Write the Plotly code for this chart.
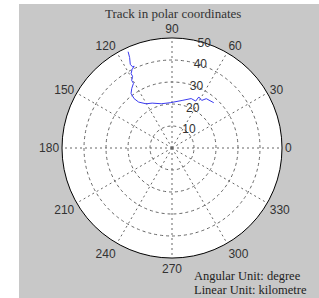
import plotly.graph_objects as go

# Track data (range in km, bearing in degrees)
track_r = [48.1, 45.4, 42.5, 41.0, 41.0, 40.0, 38.6, 37.2, 35.8, 34.2, 32.7, 31.0,
           28.3, 25.8, 23.3, 22.3, 20.7, 20.6, 22.1, 24.1, 23.9, 26.2, 25.5, 27.3, 28.0]
track_theta = [114.5, 115.1, 116.5, 115.9, 114.8, 117.0, 118.8, 118.8, 120.8, 120.8,
               124.0, 126.9, 127.5, 126.0, 120.4, 113.8, 103.7, 92.2, 78.0, 68.8,
               63.2, 62.3, 58.0, 55.2, 47.3]

angle_ticks = [0, 30, 60, 90, 120, 150, 180, 210, 240, 270, 300, 330]
radial_ticks = [10, 20, 30, 40, 50]

W, H = 319, 298
L, R, T, B = 62, 37, 38, 40
pw, ph = W - L - R, H - T - B

def px(x):
    return (x - L) / pw

def py(y):
    return (H - B - y) / ph

fig = go.Figure()
fig.add_trace(go.Scatterpolar(
    r=track_r, theta=track_theta, mode="lines",
    line=dict(color="#3b3bf0", width=1), showlegend=False, hoverinfo="skip"))

fig.update_layout(
    width=W, height=H,
    margin=dict(l=L, r=R, t=T, b=B),
    paper_bgcolor="white",
    showlegend=False,
    polar=dict(
        bgcolor="white",
        domain=dict(x=[0, 1], y=[0, 1]),
        angularaxis=dict(
            rotation=0, direction="counterclockwise",
            tickmode="array", tickvals=angle_ticks,
            ticktext=[str(a) for a in angle_ticks],
            ticks="", showline=True, linecolor="black", linewidth=1,
            showgrid=True, gridcolor="#666666", gridwidth=1, griddash="2px,3px",
            tickfont=dict(family="Liberation Sans, Arial", size=12, color="#333333"),
        ),
        radialaxis=dict(
            range=[0, 50], tickmode="array", tickvals=radial_ticks,
            ticktext=[str(v) for v in radial_ticks],
            angle=80, tickangle=80, side="clockwise",
            showline=False, ticks="",
            showgrid=True, gridcolor="#666666", gridwidth=1, griddash="3px,3px",
            tickfont=dict(family="Liberation Sans, Arial", size=12, color="#333333"),
        ),
    ),
    shapes=[dict(type="rect", xref="paper", yref="paper",
                 x0=px(19), x1=px(W + 5), y0=py(H + 5), y1=py(4),
                 fillcolor="#c8c8c8", line=dict(width=0), layer="below")],
    annotations=[
        dict(text="Track in polar coordinates", xref="paper", yref="paper",
             x=px(173), y=py(13), xanchor="center", yanchor="middle",
             showarrow=False,
             font=dict(family="Liberation Serif, Times New Roman", size=13, color="#333333")),
        dict(text="Angular Unit: degree",
             xref="paper", yref="paper", x=px(192), y=py(276),
             xanchor="left", yanchor="middle", align="left", showarrow=False,
             font=dict(family="Liberation Serif, Times New Roman", size=12.5, color="#222222")),
        dict(text="Linear Unit: kilometre",
             xref="paper", yref="paper", x=px(192), y=py(290),
             xanchor="left", yanchor="middle", align="left", showarrow=False,
             font=dict(family="Liberation Serif, Times New Roman", size=12.5, color="#222222")),
    ],
)

fig.write_html("out.html")
